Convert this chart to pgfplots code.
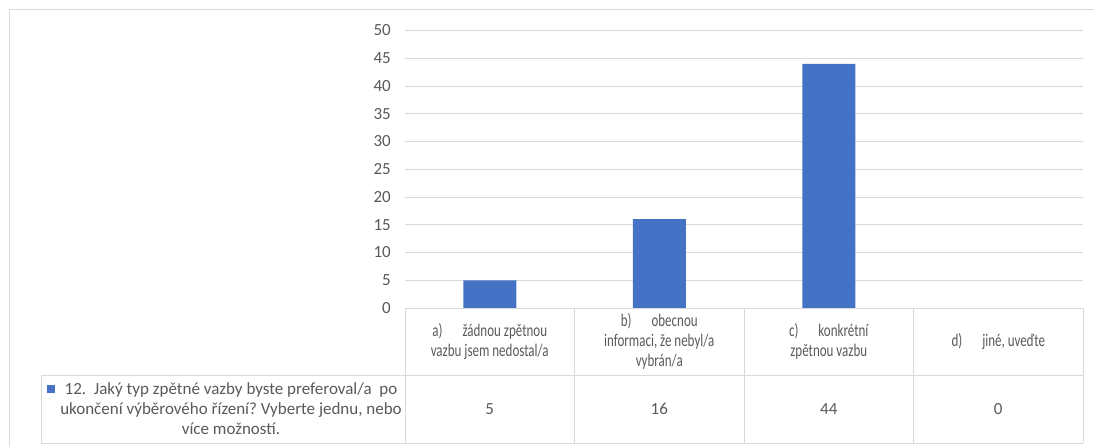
\documentclass[border=0pt]{standalone}
\usepackage{pgfplots}
\pgfplotsset{compat=1.18}
\usepackage{pgfplotstable}
\usepackage{fontspec}
\setmainfont{Carlito}
\newfontfamily\condfont[FakeStretch=0.73]{Carlito}
\definecolor{barblue}{HTML}{4472C4}
\definecolor{txtgray}{HTML}{595959}
\definecolor{linegray}{HTML}{D9D9D9}
\pgfplotstableread{
x y
0.5 5
1.5 16
2.5 44
3.5 0
}\datatab
\frenchspacing
\begin{document}
\begin{tikzpicture}[x=1pt,y=1pt]
\path[use as bounding box] (0,0) rectangle (1094,-447);
% chart border (only visible edges)
\draw[linegray, line width=1pt] (9.5,-447) -- (9.5,-9.5) -- (1094,-9.5);
\begin{axis}[
  at={(405pt,-308pt)}, anchor=south west,
  scale only axis, width=678pt, height=277.5pt,
  xmin=0, xmax=4, ymin=0, ymax=50,
  ytick={0,5,...,50},
  xtick={0.5,1.5,2.5,3.5},
  xticklabels={
    {a)\hspace{20pt}žádnou zpětnou\\vazbu jsem nedostal/a},
    {b)\hspace{20pt}obecnou\\informaci, že nebyl/a\\vybrán/a},
    {c)\hspace{20pt}konkrétní\\zpětnou vazbu},
    {d)\hspace{20pt}jiné, uveďte}},
  xticklabel style={anchor=center, yshift=-33.5pt, inner sep=0pt, text width=165pt, align=flush center,
    font=\condfont\fontsize{17.8}{20}\selectfont, text=txtgray},
  yticklabel style={anchor=east, inner sep=0pt, xshift=-14pt,
    font=\fontsize{17}{20}\selectfont, text=txtgray},
  /pgf/number format/assume math mode=true,
  major tick length=0pt,
  axis line style={draw=none},
  ymajorgrids, grid style={linegray, line width=1pt},
  clip=false,
]
\addplot[ybar, bar width=53pt, fill=barblue, draw=none] table[x=x, y=y] {\datatab};
\addplot[draw=none, mark=none, nodes near coords, point meta=explicit,
  nodes near coords style={anchor=center, yshift=-101pt, inner sep=0pt,
    font=\fontsize{17}{20}\selectfont, text=txtgray,
    /pgf/number format/assume math mode=true}]
  table[x=x, y expr=0, meta=y] {\datatab};
\end{axis}
% data table grid
\draw[linegray, line width=1pt]
  (405,-308) -- (1083,-308)
  (41,-375.5) -- (1083,-375.5)
  (41,-443) -- (1083,-443)
  (41,-375.5) -- (41,-443)
  (405,-308) -- (405,-443)
  (574.5,-308) -- (574.5,-443)
  (744,-308) -- (744,-443)
  (913.5,-308) -- (913.5,-443)
  (1083,-308) -- (1083,-443);
% series label with legend key
\fill[barblue] (47,-385) rectangle (55,-393);
\node[align=flush center, inner sep=0pt, text=txtgray, font=\fontsize{17}{20}\selectfont] at (231,-409)
  {12.\ \ Jaký typ zpětné vazby byste preferoval/a\ \ po\\ukončení výběrového řízení? Vyberte jednu, nebo\\více možností.};
\end{tikzpicture}
\end{document}
